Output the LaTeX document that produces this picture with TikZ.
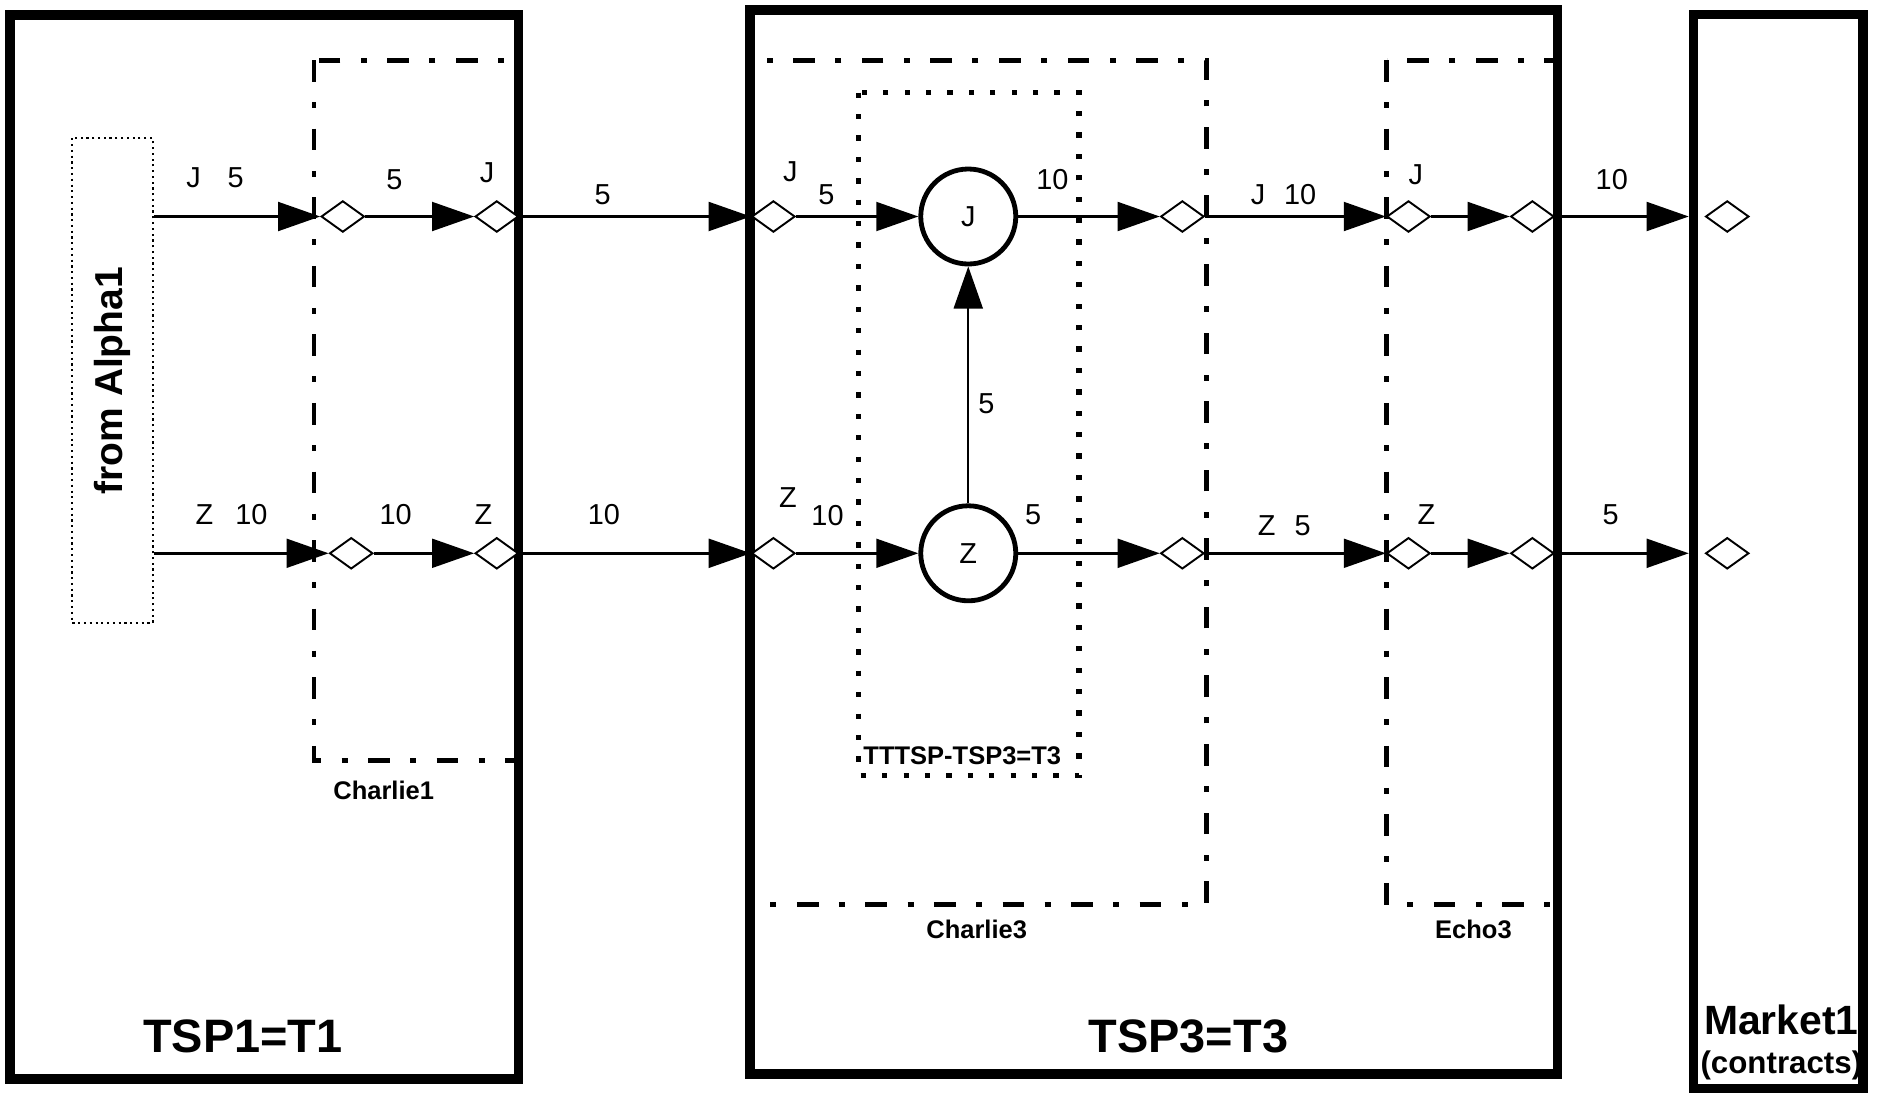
\documentclass[tikz,border=0pt]{standalone}
\usepackage{fontspec}
\setmainfont{Liberation Sans}
\usetikzlibrary{arrows.meta,shapes.geometric}

\tikzset{
  frame/.style={line width=4pt},
  dashdot/.style={line width=2pt, dash pattern=on 9pt off 8.5pt on 2.5pt off 8.5pt},
  port/.style={draw, diamond, fill=white, line width=0.8pt, minimum width=18pt, minimum height=13pt, inner sep=0pt},
  pool/.style={draw, circle, line width=2pt, minimum size=39.5pt, inner sep=0pt, font=\fontsize{12}{14}\selectfont},
  flow/.style={line width=1pt, -{Triangle[length=17.5pt,width=12pt]}},
  qty/.style={font=\fontsize{12}{14}\selectfont, inner sep=1pt},
  boxname/.style={font=\bfseries\fontsize{10.6}{12}\selectfont, inner sep=1pt},
  bigname/.style={font=\bfseries\fontsize{19.5}{22}\selectfont, inner sep=1pt}
}

\begin{document}
\begin{tikzpicture}[x=0.5pt, y=-0.5pt]
	\useasboundingbox (0,0) rectangle (1568,910);
	% inner boxes
	\draw[dashdot] (261,50) rectangle (431,632);
	\draw[dashdot] (623.5,50) rectangle (1003,752);
	\draw[dashdot] (1153,50) rectangle (1295,752);
	\draw[line width=2.2pt, dash pattern=on 2.2pt off 6.7pt] (714,77) rectangle (897,645);
	% operator frames
	\draw[frame] (8.5,12.5) rectangle (431,897);
	\draw[frame] (623.5,8.5) rectangle (1295,893);
	\node[draw, frame, minimum width=70.5pt, minimum height=446.5pt, inner sep=0pt] (mkt) at (1478.5,458.5) {};
	% source box
	\node[draw, line width=0.9pt, dash pattern=on 0.9pt off 1.5pt, rotate=90, minimum width=201.5pt, minimum height=33.5pt,
		font=\bfseries\fontsize{16.2}{18}\selectfont] (alpha) at (93.5,316.5) {from Alpha1};
	% ports on both rows
	\foreach \n/\x in {1/285,2/413,3/643,4/983,5/1171,6/1274,7/1436} { \node[port] (pj\n) at (\x,180) {}; }
	\foreach \n/\x in {1/292,2/413,3/643,4/983,5/1171,6/1274,7/1436} { \node[port] (pz\n) at (\x,460) {}; }
	\node[pool] (cj) at (805,180) {J};
	\node[pool] (cz) at (805,460) {Z};
	% flows
	\draw[flow] (alpha.south |- pj1) -- (pj1);
	\draw[flow] (alpha.south |- pz1) -- (pz1);
	\foreach \a/\b in {pj1/pj2, pj2/pj3, pj3/cj, cj/pj4, pj4/pj5, pj5/pj6, pz1/pz2, pz2/pz3, pz3/cz, cz/pz4, pz4/pz5, pz5/pz6, cz/cj} { \draw[flow] (\a) -- (\b); }
	\draw[flow] (pj6) -- (pj6 -| mkt.west);
	\draw[flow] (pz6) -- (pz6 -| mkt.west);
	% quantities
	\foreach \x/\y/\t [count=\i] in {161/148/J, 196/148/5, 328/149/5, 405/144/J, 501/162/5, 657/143/J, 687/162/5, 875/149/10,
		1046/162/J, 1081/162/10, 1177/145/J, 1340/149/10,
		170/428/Z, 209/428/10, 329/428/10, 402/428/Z, 502/428/10, 655/414/Z, 688/429/10, 859/428/5,
		1053/437/Z, 1083/437/5, 1186/428/Z, 1339/428/5, 820/336/5} { \node[qty] (q\i) at (\x,\y) {\t}; }
	% box names
	\node[boxname] (nch1) at (319,657) {Charlie1};
	\node[boxname] (ntt) at (800,628) {TTTSP-TSP3=T3};
	\node[boxname] (nch3) at (812,773) {Charlie3};
	\node[boxname] (ne3) at (1225,773) {Echo3};
	\node[bigname] (ntsp1) at (202,862) {TSP1=T1};
	\node[bigname] (ntsp3) at (988,862) {TSP3=T3};
	\node[font=\bfseries\fontsize{17}{20}\selectfont, inner sep=1pt] (nmk) at (1481,848) {Market1};
	\node[font=\bfseries\fontsize{13}{15}\selectfont, inner sep=1pt] (nmk2) at (1481,886) {(contracts)};
\end{tikzpicture}
\end{document}
